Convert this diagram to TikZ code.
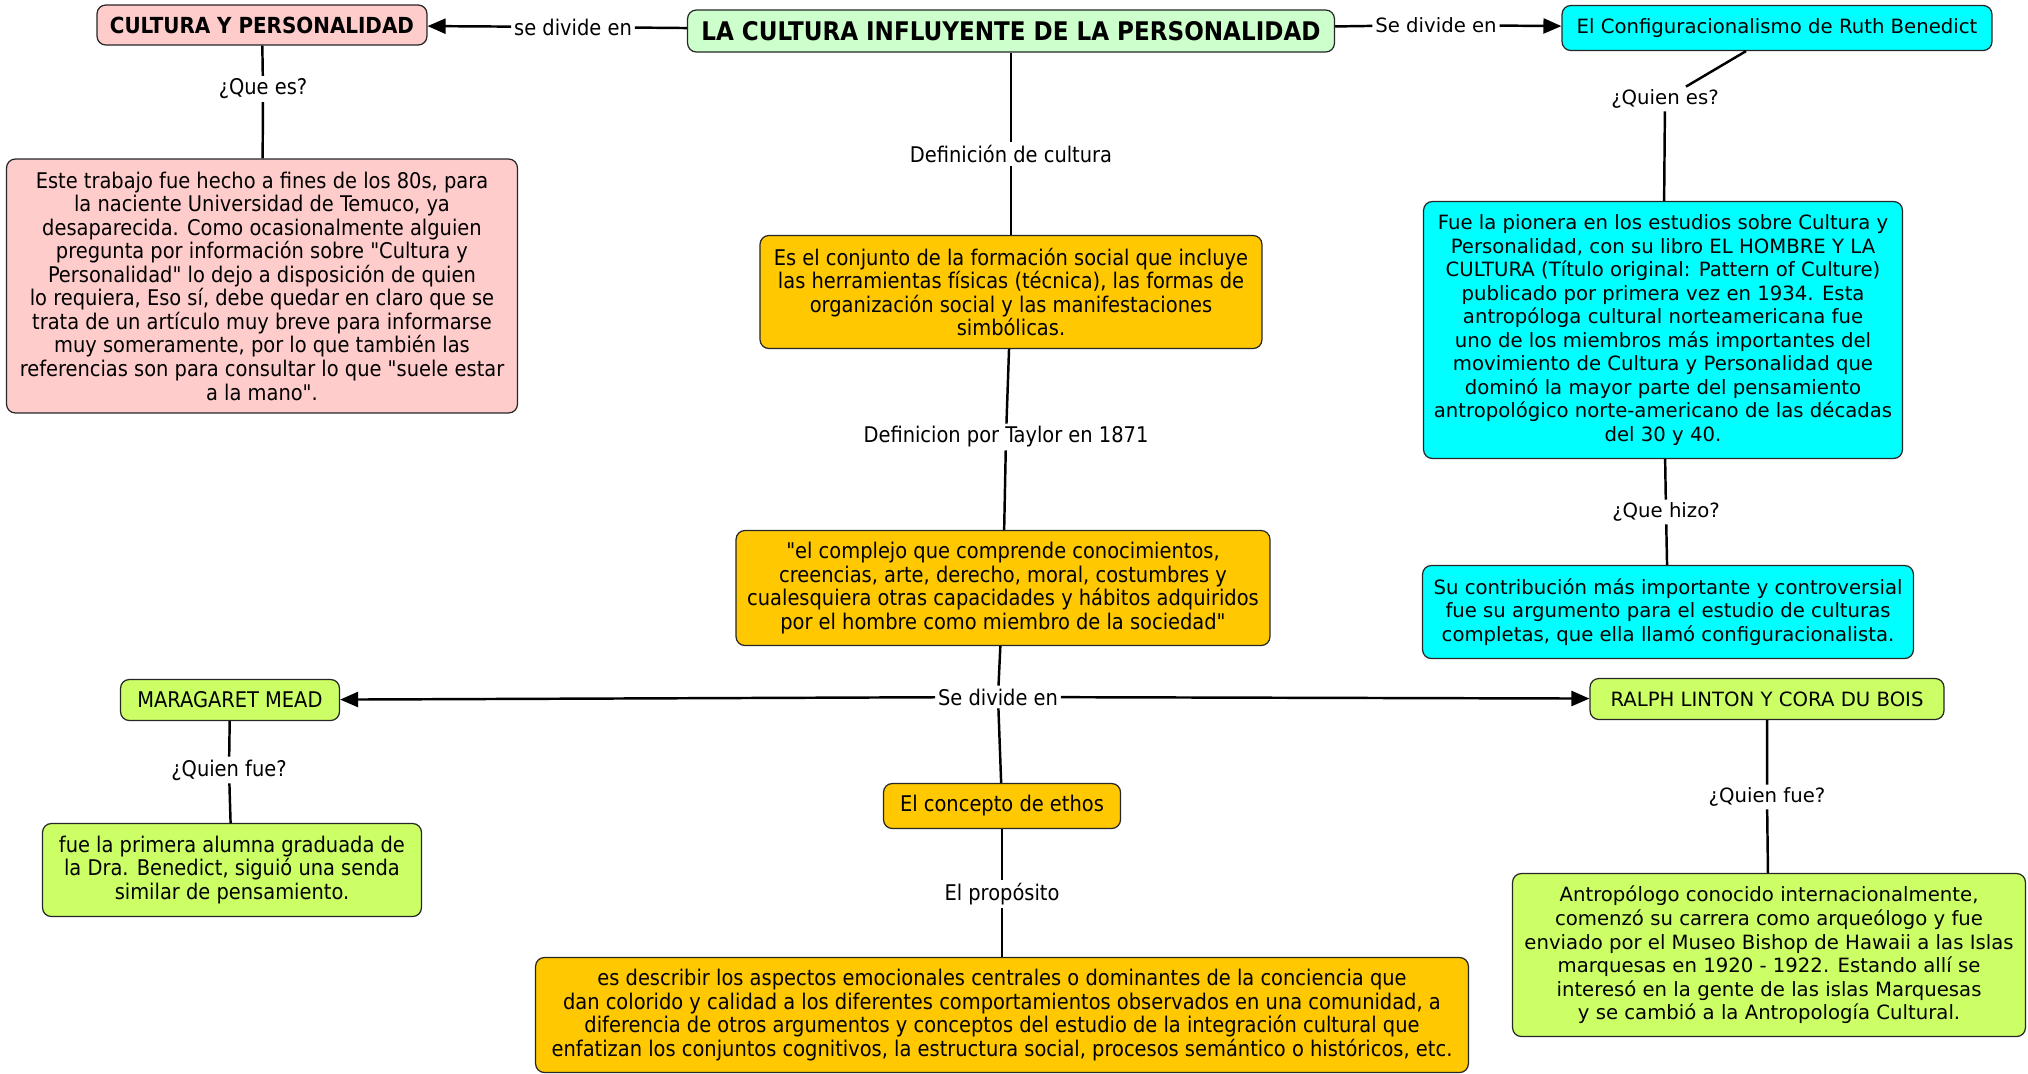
\documentclass[tikz,border=0pt]{standalone}
\usepackage{fontspec}
\usepackage{tikz}
\usetikzlibrary{arrows.meta}
\newfontfamily\vfont{DejaVu Sans}
\newfontfamily\cfont{DejaVu Sans Condensed}
\definecolor{pinkc}{HTML}{FFCCCC}
\definecolor{mintc}{HTML}{CCFFCC}
\definecolor{goldc}{HTML}{FFC800}
\definecolor{cyanc}{HTML}{00FFFF}
\definecolor{limec}{HTML}{CCFF66}

\begin{document}
\begin{tikzpicture}[x=0.02cm, y=-0.02cm,
  concept/.style={draw=black!85, line width=0.7pt, rounded corners=5pt, align=center, inner sep=2pt},
  vtext/.style={font=\vfont\fontsize{11.2}{13.4}\selectfont},
  ctext/.style={font=\cfont\fontsize{12.3}{13.4}\selectfont},
  linkw/.style={align=center, inner sep=1.5pt},
  conn/.style={line width=1.4pt},
  arr/.style={line width=1.4pt, -{Triangle[length=0.36cm, width=0.3cm]}}]
\useasboundingbox (0,0) rectangle (2028,1073);

% conceptos
\node [concept, fill=mintc, minimum width=12.94cm, minimum height=0.84cm, font=\cfont\bfseries\fontsize{14.6}{16}\selectfont] (title) at (1011,31) {LA CULTURA INFLUYENTE DE LA PERSONALIDAD};
\node [concept, fill=pinkc, minimum width=6.6cm, minimum height=0.8cm, font=\cfont\bfseries\fontsize{12.6}{14}\selectfont] (cyp) at (262,25) {CULTURA Y PERSONALIDAD};
\node [concept, fill=pinkc, minimum width=10.22cm, minimum height=5.08cm, ctext] (trabajo) at (262,286) {Este trabajo fue hecho a fines de los 80s, para\\
la naciente Universidad de Temuco, ya\\
desaparecida. Como ocasionalmente alguien\\
pregunta por información sobre "Cultura y\\
Personalidad" lo dejo a disposición de quien\\
lo requiera, Eso sí, debe quedar en claro que se\\
trata de un artículo muy breve para informarse\\
muy someramente, por lo que también las\\
referencias son para consultar lo que "suele estar\\
a la mano".};
\node [concept, fill=cyanc, minimum width=8.6cm, minimum height=0.9cm, vtext] (benedict) at (1777,28) {El Configuracionalismo de Ruth Benedict};
\node [concept, fill=cyanc, minimum width=9.58cm, minimum height=5.14cm, vtext] (pionera) at (1663,330) {Fue la pionera en los estudios sobre Cultura y\\
Personalidad, con su libro EL HOMBRE Y LA\\
CULTURA (Título original: Pattern of Culture)\\
publicado por primera vez en 1934. Esta\\
antropóloga cultural norteamericana fue\\
uno de los miembros más importantes del\\
movimiento de Cultura y Personalidad que\\
dominó la mayor parte del pensamiento\\
antropológico norte-americano de las décadas\\
del 30 y 40.};
\node [concept, fill=cyanc, minimum width=9.82cm, minimum height=1.86cm, vtext] (contrib) at (1668,612) {Su contribución más importante y controversial\\
fue su argumento para el estudio de culturas\\
completas, que ella llamó configuracionalista.};
\node [concept, fill=goldc, minimum width=10.04cm, minimum height=2.26cm, ctext] (conjunto) at (1011,292) {Es el conjunto de la formación social que incluye\\
las herramientas físicas (técnica), las formas de\\
organización social y las manifestaciones\\
simbólicas.};
\node [concept, fill=goldc, minimum width=10.68cm, minimum height=2.3cm, ctext] (complejo) at (1003,588) {"el complejo que comprende conocimientos,\\
creencias, arte, derecho, moral, costumbres y\\
cualesquiera otras capacidades y hábitos adquiridos\\
por el hombre como miembro de la sociedad"};
\node [concept, fill=limec, minimum width=4.38cm, minimum height=0.82cm, ctext] (mead) at (230,700) {MARAGARET MEAD};
\node [concept, fill=limec, minimum width=7.58cm, minimum height=1.86cm, ctext] (alumna) at (232,870) {fue la primera alumna graduada de\\
la Dra. Benedict, siguió una senda\\
similar de pensamiento.};
\node [concept, fill=limec, minimum width=7.08cm, minimum height=0.82cm, vtext] (linton) at (1767,699) {RALPH LINTON Y CORA DU BOIS};
\node [concept, fill=limec, minimum width=10.26cm, minimum height=3.26cm, vtext] (antropologo) at (1769,955) {Antropólogo conocido internacionalmente,\\
comenzó su carrera como arqueólogo y fue\\
enviado por el Museo Bishop de Hawaii a las Islas\\
marquesas en 1920 - 1922. Estando allí se\\
interesó en la gente de las islas Marquesas\\
y se cambió a la Antropología Cultural.};
\node [concept, fill=goldc, minimum width=4.74cm, minimum height=0.9cm, ctext] (ethos) at (1002,806) {El concepto de ethos};
\node [concept, fill=goldc, minimum width=18.66cm, minimum height=2.3cm, ctext] (describir) at (1002,1015) {es describir los aspectos emocionales centrales o dominantes de la conciencia que\\
dan colorido y calidad a los diferentes comportamientos observados en una comunidad, a\\
diferencia de otros argumentos y conceptos del estudio de la integración cultural que\\
enfatizan los conjuntos cognitivos, la estructura social, procesos semántico o históricos, etc.};

% frases de enlace
\node [linkw, ctext] (sedivL) at (573,27) {se divide en};
\node [linkw, vtext] (sedivR) at (1436,25) {Se divide en};
\node [linkw, ctext] (quees) at (263,89) {¿Que es?};
\node [linkw, vtext] (quienes) at (1665,99) {¿Quien es?};
\node [linkw, vtext] (quehizo) at (1666,512) {¿Que hizo?};
\node [linkw, ctext] (defcult) at (1011,154) {Definición de cultura};
\node [linkw, ctext] (taylor) at (1006,437) {Definicion por Taylor en 1871};
\node [linkw, ctext] (sedivC) at (998,697) {Se divide en};
\node [linkw, ctext] (quienfueM) at (229,770) {¿Quien fue?};
\node [linkw, vtext] (quienfueR) at (1767,797) {¿Quien fue?};
\node [linkw, ctext] (proposito) at (1002,894) {El propósito};

% conexiones
\draw [conn] (title) -- (sedivL);
\draw [arr] (sedivL) -- (cyp);
\draw [conn] (title) -- (sedivR);
\draw [arr] (sedivR) -- (benedict);
\draw [conn] (cyp) -- (quees) -- (trabajo);
\draw [conn] ([xshift=-0.62cm]benedict.south) -- (quienes);
\draw [conn] (quienes) -- (pionera);
\draw [conn] (pionera) -- (quehizo) -- (contrib);
\draw [conn] (title) -- (defcult) -- (conjunto);
\draw [conn] (conjunto) -- (taylor) -- (complejo);
\draw [conn] (complejo) -- (sedivC) -- (ethos);
\draw [arr] (sedivC) -- (mead);
\draw [arr] (sedivC) -- (linton);
\draw [conn] (mead) -- (quienfueM) -- (alumna);
\draw [conn] (linton) -- (quienfueR) -- (antropologo);
\draw [conn] (ethos) -- (proposito) -- (describir);
\end{tikzpicture}
\end{document}
